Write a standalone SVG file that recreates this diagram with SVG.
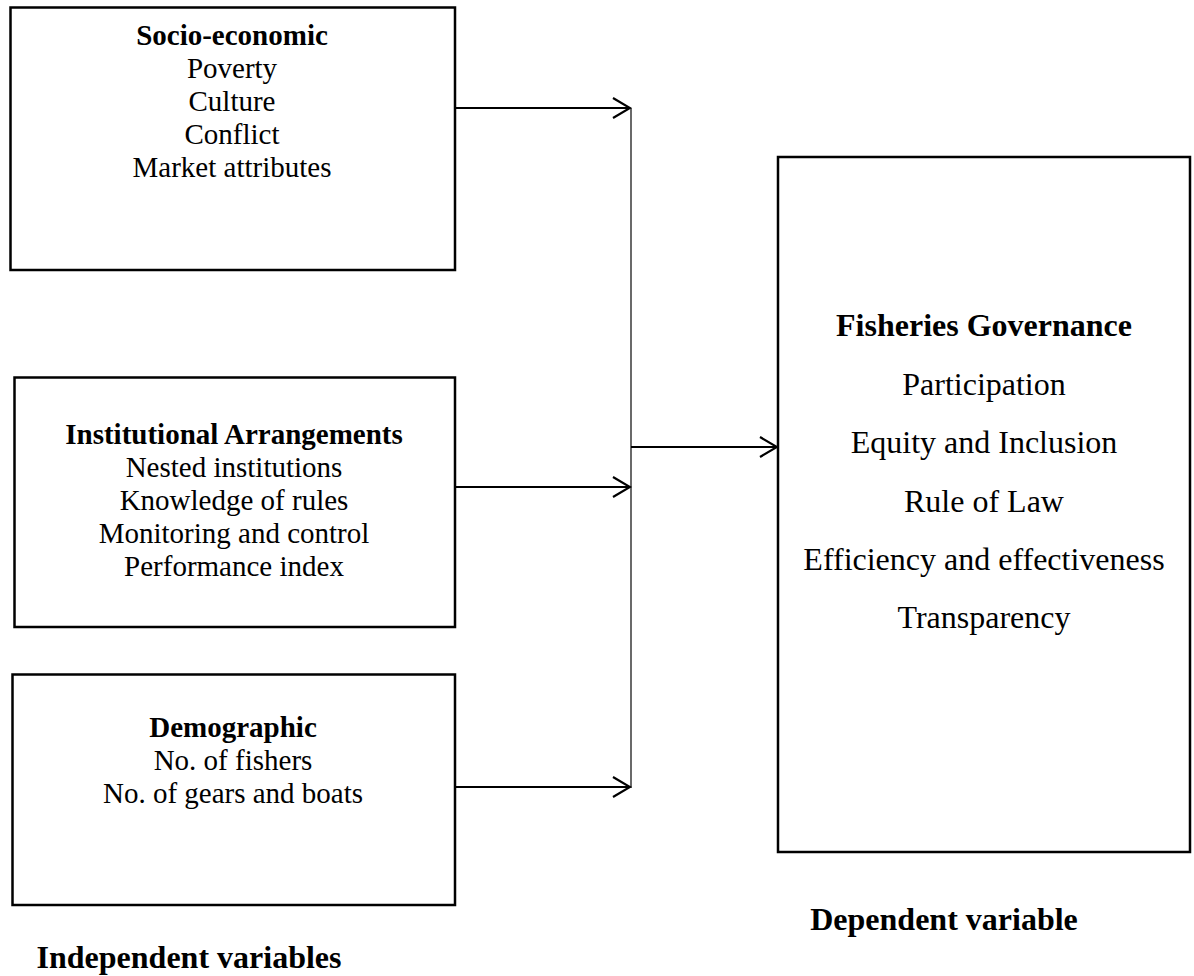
<svg xmlns="http://www.w3.org/2000/svg" width="1194" height="976" viewBox="0 0 1194 976">
<style>
.box{fill:#fff;stroke:#000;stroke-width:2.5}
.t{font-family:"Liberation Serif","Times New Roman",serif;fill:#000;text-anchor:middle}
.s29{font-size:29px}
.s32{font-size:32px}
.b{font-weight:bold}
.line{fill:none;stroke:#000;stroke-width:2.2}
.trunk{fill:none;stroke:#444;stroke-width:1.6}
</style>
<defs>
<marker id="arr" markerWidth="20" markerHeight="24" refX="18" refY="11" orient="auto" markerUnits="userSpaceOnUse">
<path d="M1,1 L18,11 L1,21" fill="none" stroke="#000" stroke-width="2.2"/>
</marker>
</defs>
<rect width="1194" height="976" fill="#fff"/>
<g id="socio-economic">
<rect class="box" x="10.5" y="7.5" width="444.5" height="262.5"/>
<text class="t s29 b" x="232" y="45">Socio-economic</text>
<text class="t s29" x="232" y="78">Poverty</text>
<text class="t s29" x="232" y="111">Culture</text>
<text class="t s29" x="232" y="144">Conflict</text>
<text class="t s29" x="232" y="177">Market attributes</text>
</g>
<g id="institutional">
<rect class="box" x="14.5" y="377.5" width="440.5" height="249.5"/>
<text class="t s29 b" x="234" y="444">Institutional Arrangements</text>
<text class="t s29" x="234" y="477">Nested institutions</text>
<text class="t s29" x="234" y="510">Knowledge of rules</text>
<text class="t s29" x="234" y="543">Monitoring and control</text>
<text class="t s29" x="234" y="576">Performance index</text>
</g>
<g id="demographic">
<rect class="box" x="12.5" y="674.5" width="442.5" height="230.5"/>
<text class="t s29 b" x="233" y="737">Demographic</text>
<text class="t s29" x="233" y="770">No. of fishers</text>
<text class="t s29" x="233" y="803">No. of gears and boats</text>
</g>
<g id="governance">
<rect class="box" x="778" y="157" width="412" height="695"/>
<text class="t s32 b" x="984" y="336">Fisheries Governance</text>
<text class="t s32" x="984" y="395">Participation</text>
<text class="t s32" x="984" y="453">Equity and Inclusion</text>
<text class="t s32" x="984" y="512">Rule of Law</text>
<text class="t s32" x="984" y="570">Efficiency and effectiveness</text>
<text class="t s32" x="984" y="628">Transparency</text>
</g>
<g id="labels">
<text class="t s32 b" x="189" y="968">Independent variables</text>
<text class="t s32 b" x="944" y="930">Dependent variable</text>
</g>
<g id="connectors">
<line class="trunk" x1="631" y1="108" x2="631" y2="788"/>
<line class="line" x1="455" y1="108" x2="630" y2="108" marker-end="url(#arr)"/>
<line class="line" x1="455" y1="487" x2="630" y2="487" marker-end="url(#arr)"/>
<line class="line" x1="455" y1="787" x2="630" y2="787" marker-end="url(#arr)"/>
<line class="line" x1="631" y1="447" x2="777" y2="447" marker-end="url(#arr)"/>
</g>
</svg>
